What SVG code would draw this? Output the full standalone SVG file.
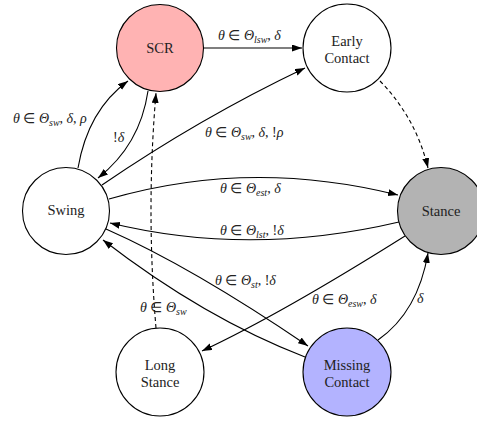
<svg xmlns="http://www.w3.org/2000/svg" width="477" height="424" viewBox="0 0 477 424" font-family="'Liberation Serif', 'Times New Roman', serif">
<defs>
<marker id="arr" markerUnits="userSpaceOnUse" markerWidth="11" markerHeight="8" refX="10" refY="3.5" orient="auto">
<path d="M0,0 L10,3.5 L0,7 z" fill="#000"/>
</marker>
<style>
.node circle{stroke:#000;stroke-width:1.1}
.nl{font-size:14.5px;fill:#222;text-anchor:middle}
.edge{fill:none;stroke:#000;stroke-width:1.1;marker-end:url(#arr)}
.dash{stroke-dasharray:4 3}
.lab{font-size:14px;fill:#222}
.i{font-style:italic}
.sub{font-style:italic;font-size:10px}
</style>
</defs>
<rect width="477" height="424" fill="#fff"/>
<g id="connectors">
<path class="edge" d="M204,48 L302,48"/>
<path class="edge" d="M78,168 Q88,110 128,81"/>
<path class="edge" d="M148,91 Q140,145 98,178"/>
<path class="edge" d="M102,185 Q200,118 305,68"/>
<path class="edge" d="M109,199 Q250,158 398,195"/>
<path class="edge" d="M399,222 Q250,257 110,223"/>
<path class="edge" d="M106,229 Q192,267 308,346"/>
<path class="edge" d="M305,357 Q204,318 103,240"/>
<path class="edge" d="M405,236 Q281,314 202,351"/>
<path class="edge" d="M378,340 Q418,312 428,253"/>
<path class="edge dash" d="M380,81 Q416,118 428,168"/>
<path class="edge dash" d="M156,328 Q146,210 156,93"/>
</g>
<g id="labels">
<text class="lab" x="218" y="40"><tspan class="i">θ</tspan> ∈ <tspan class="i">Θ</tspan><tspan class="sub" dy="3">lsw</tspan><tspan dy="-3">, </tspan><tspan class="i">δ</tspan></text>
<text class="lab" x="13" y="123"><tspan class="i">θ</tspan> ∈ <tspan class="i">Θ</tspan><tspan class="sub" dy="3">sw</tspan><tspan dy="-3">, </tspan><tspan class="i">δ</tspan>, <tspan class="i">ρ</tspan></text>
<text class="lab" x="113" y="142">!<tspan class="i">δ</tspan></text>
<text class="lab" x="205" y="137"><tspan class="i">θ</tspan> ∈ <tspan class="i">Θ</tspan><tspan class="sub" dy="3">sw</tspan><tspan dy="-3">, </tspan><tspan class="i">δ</tspan>, !<tspan class="i">ρ</tspan></text>
<text class="lab" x="220" y="193"><tspan class="i">θ</tspan> ∈ <tspan class="i">Θ</tspan><tspan class="sub" dy="3">est</tspan><tspan dy="-3">, </tspan><tspan class="i">δ</tspan></text>
<text class="lab" x="220" y="235"><tspan class="i">θ</tspan> ∈ <tspan class="i">Θ</tspan><tspan class="sub" dy="3">lst</tspan><tspan dy="-3">, !</tspan><tspan class="i">δ</tspan></text>
<text class="lab" x="215" y="285"><tspan class="i">θ</tspan> ∈ <tspan class="i">Θ</tspan><tspan class="sub" dy="3">st</tspan><tspan dy="-3">, !</tspan><tspan class="i">δ</tspan></text>
<text class="lab" x="312" y="304"><tspan class="i">θ</tspan> ∈ <tspan class="i">Θ</tspan><tspan class="sub" dy="3">esw</tspan><tspan dy="-3">, </tspan><tspan class="i">δ</tspan></text>
<text class="lab" x="140" y="312"><tspan class="i">θ</tspan> ∈ <tspan class="i">Θ</tspan><tspan class="sub" dy="3">sw</tspan></text>
<text class="lab" x="417" y="303"><tspan class="i">δ</tspan></text>
</g>
<g id="node-scr" class="node"><circle cx="160" cy="48" r="43.5" fill="#ffb3b3"/><text class="nl" x="160" y="53">SCR</text></g>
<g id="node-early" class="node"><circle cx="347" cy="48" r="44" fill="#fff"/><text class="nl" x="347" y="46">Early</text><text class="nl" x="347" y="63">Contact</text></g>
<g id="node-swing" class="node"><circle cx="66" cy="211" r="43.5" fill="#fff"/><text class="nl" x="66" y="215">Swing</text></g>
<g id="node-stance" class="node"><circle cx="441" cy="211" r="43.5" fill="#b3b3b3"/><text class="nl" x="441" y="216">Stance</text></g>
<g id="node-long" class="node"><circle cx="160" cy="372" r="44" fill="#fff"/><text class="nl" x="160" y="370">Long</text><text class="nl" x="160" y="387">Stance</text></g>
<g id="node-missing" class="node"><circle cx="347" cy="372" r="44" fill="#b3b3ff"/><text class="nl" x="347" y="370">Missing</text><text class="nl" x="347" y="387">Contact</text></g>
</svg>
